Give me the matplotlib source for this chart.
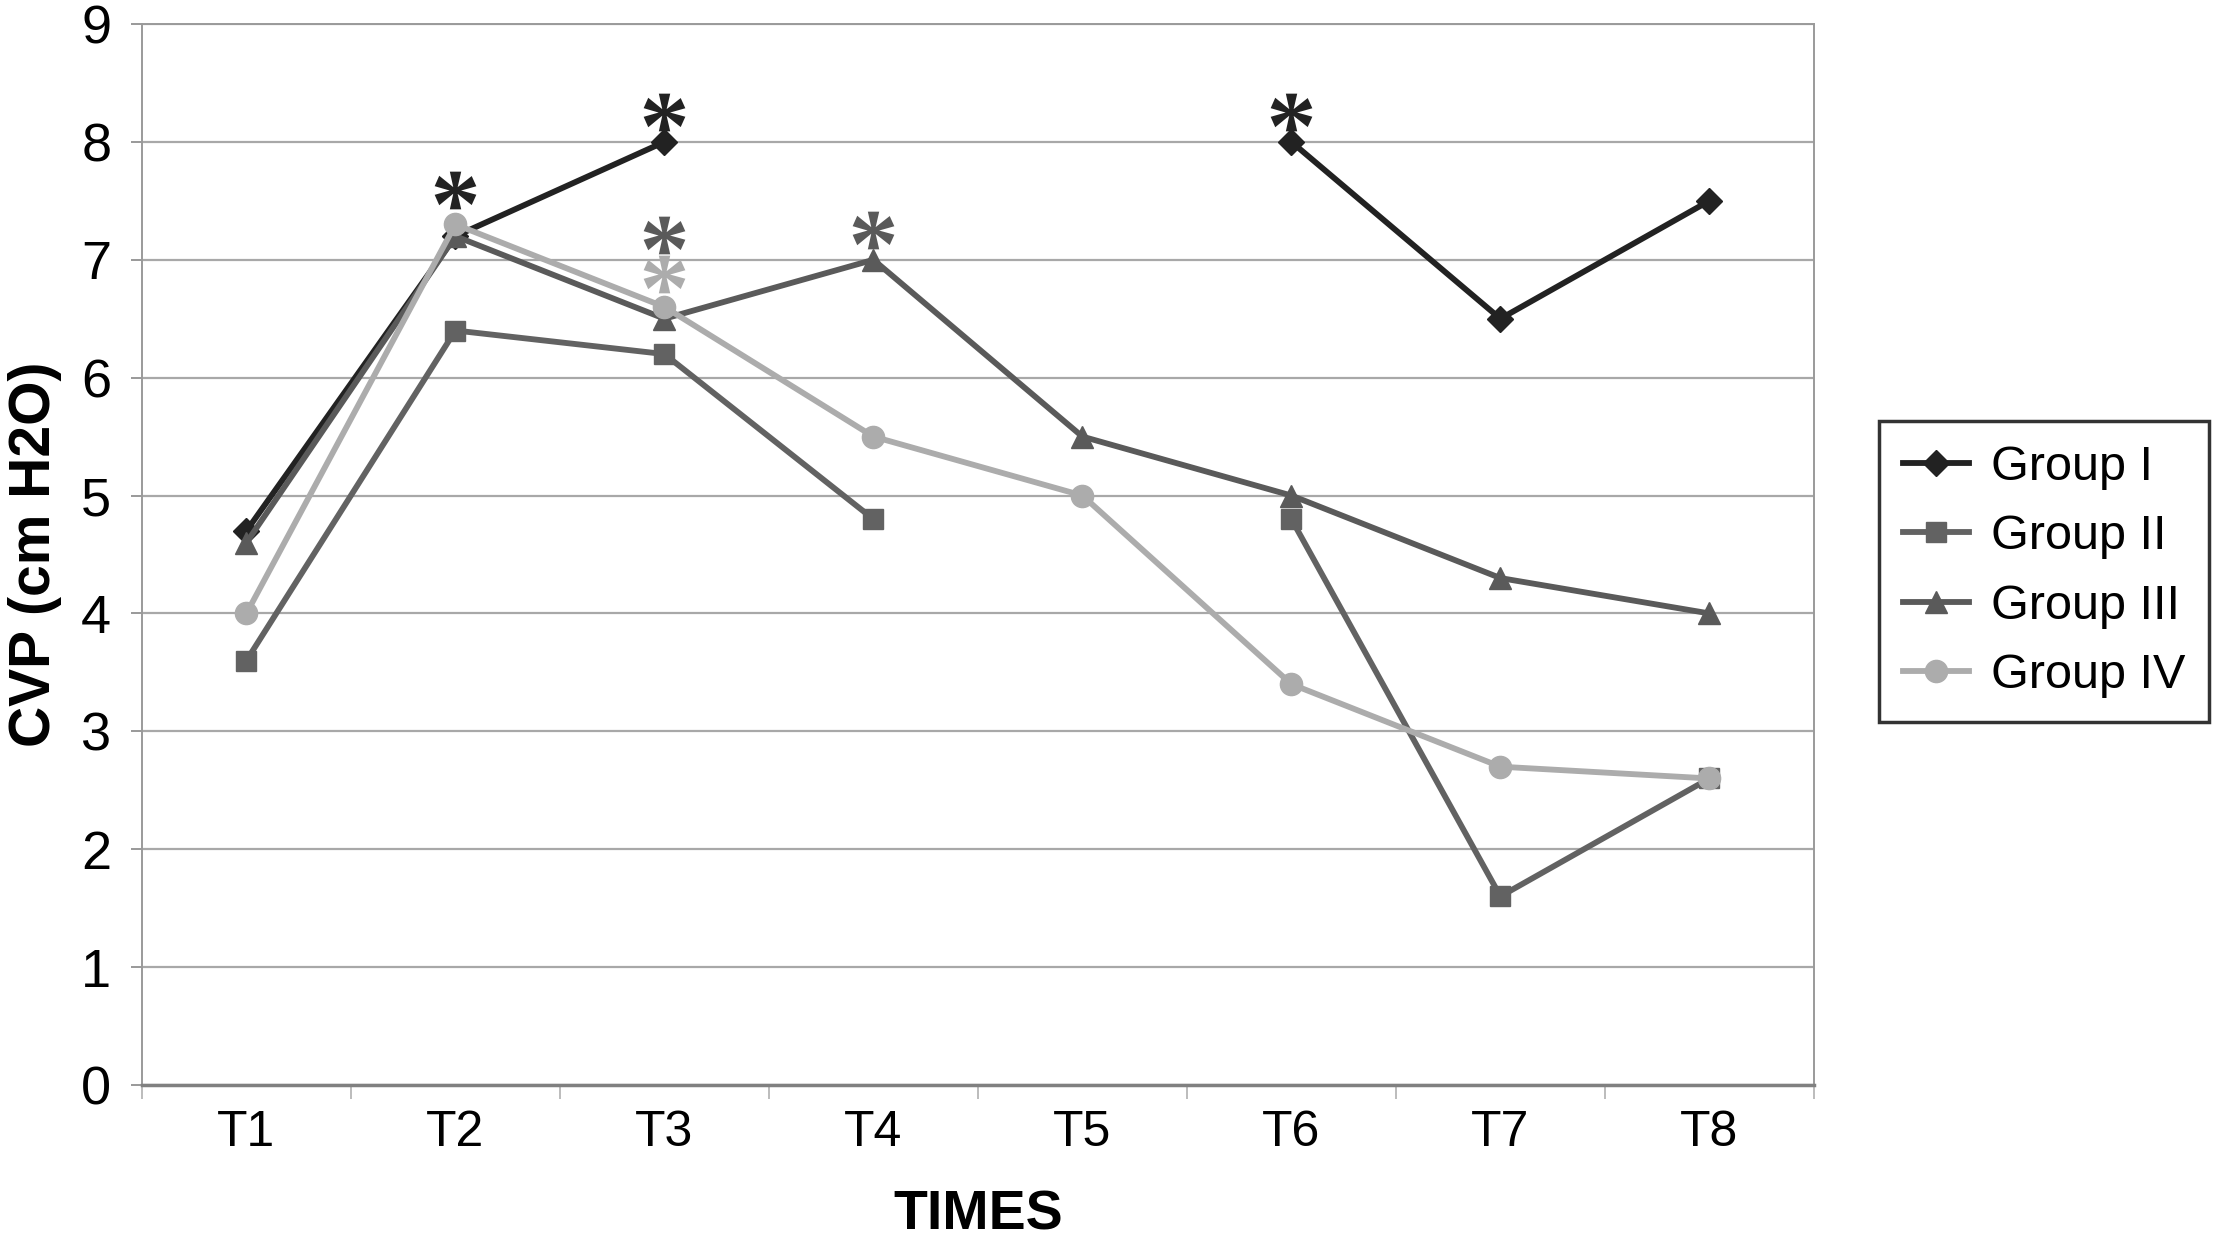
import numpy as np
import matplotlib
matplotlib.use("Agg")
import matplotlib.pyplot as plt

plt.rcParams['font.family'] = ['Liberation Sans', 'DejaVu Sans']
plt.rcParams['mathtext.fontset'] = 'custom'
plt.rcParams['mathtext.rm'] = 'Liberation Serif'
plt.rcParams['mathtext.bf'] = 'Liberation Serif:bold'

categories = ["T1", "T2", "T3", "T4", "T5", "T6", "T7", "T8"]
group_names = ["Group I", "Group II", "Group III", "Group IV"]
group1 = [4.7, 7.2, 8.0, np.nan, np.nan, 8.0, 6.5, 7.5]
group2 = [3.6, 6.4, 6.2, 4.8, np.nan, 4.8, 1.6, 2.6]
group3 = [4.6, 7.2, 6.5, 7.0, 5.5, 5.0, 4.3, 4.0]
group4 = [4.0, 7.3, 6.6, 5.5, 5.0, 3.4, 2.7, 2.6]

# significance asterisks: (category index, y, group index)
star_cat = [1, 2, 5, 2, 2, 3]
star_y = [7.59, 8.25, 8.25, 7.21, 6.88, 7.25]
star_group = [0, 0, 0, 2, 3, 2]

colors = ["#222222", "#626262", "#5a5a5a", "#acacac"]
markers = ["D", "s", "^", "o"]
msizes = [13, 15, 16, 16]

fig = plt.figure(figsize=(22.21, 12.37), dpi=100)
ax = fig.add_axes([0.0639, 0.1229, 0.8167 - 0.0639, 0.9806 - 0.1229])

x = np.arange(1, len(categories) + 1)
series = [group1, group2, group3, group4]
for vals, name, c, m, ms in zip(series, group_names, colors, markers, msizes):
    ax.plot(x, vals, color=c, lw=4.2, marker=m, markersize=ms,
            markerfacecolor=c, markeredgecolor=c, label=name, zorder=3)

for ci, yv, gi in zip(star_cat, star_y, star_group):
    ax.plot(x[ci], yv, linestyle='none', marker=r'$\mathbf{*}$', markersize=30,
            color=colors[gi], markeredgewidth=0, zorder=4)

ax.set_xlim(0.5, len(categories) + 0.5)
ax.set_ylim(0, 9)
ax.set_yticks(range(0, 10))
ax.set_yticklabels([str(i) for i in range(0, 10)], fontsize=39)
ax.set_xticks(x)
ax.set_xticklabels(categories, fontsize=36)
ax.tick_params(axis='x', which='major', length=0, pad=18)
ax.set_xticks(np.arange(0.5, len(categories) + 1.0, 1.0), minor=True)
ax.tick_params(axis='x', which='minor', length=10, width=1.2, color='#b0b0b0', direction='out')
ax.tick_params(axis='y', length=8, width=1.2, color='#888888', pad=14)

ax.grid(axis='y', color='#a8a8a8', lw=1.6, zorder=0)
for s in ['top', 'right', 'left']:
    ax.spines[s].set_color('#9a9a9a')
    ax.spines[s].set_linewidth(1.4)
ax.spines['bottom'].set_color('#808080')
ax.spines['bottom'].set_linewidth(2.5)

ax.set_ylabel("CVP (cm H2O)", fontsize=41, fontweight='bold', labelpad=14)
ax.set_xlabel("TIMES", fontsize=40, fontweight='bold', labelpad=24)

leg = fig.legend(loc='center left', bbox_to_anchor=(0.846, 0.538), fontsize=35,
                 frameon=True, fancybox=False, handlelength=1.35, handletextpad=0.45,
                 borderpad=0.5, labelspacing=0.5, borderaxespad=0)
leg.get_frame().set_edgecolor('black')
leg.get_frame().set_linewidth(2.5)

fig.savefig("out.png", dpi=100, facecolor='white')
